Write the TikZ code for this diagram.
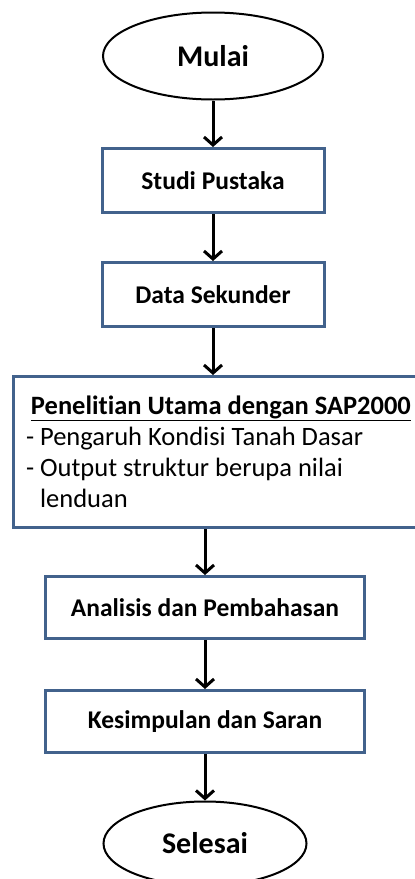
\documentclass[tikz,border=0pt]{standalone}
\usepackage{fontspec}
\setmainfont[Ligatures=NoCommon]{Carlito}
\usepackage{tikz}
\usetikzlibrary{shapes, arrows.meta, calc, positioning}

\definecolor{boxblue}{RGB}{66,98,140}

\begin{document}
\begin{tikzpicture}[x=1pt, y=-1pt, >={Straight Barb[length=8pt,width=18pt]}]
    \tikzstyle{terminal} = [draw, line width=2pt, ellipse, inner sep=0pt,
	font=\fontsize{30}{34}\selectfont\bfseries]
    \tikzstyle{process} = [draw=boxblue, line width=3pt, rectangle, inner sep=0pt,
	font=\fontsize{25.5}{30}\selectfont\bfseries]
    \tikzstyle{mainstep} = [draw=boxblue, line width=3pt, rectangle, inner xsep=13pt,
	minimum width=407pt, minimum height=151pt, text width=381pt, align=flush left,
	font=\fontsize{26.5}{31}\selectfont]

	\useasboundingbox (0,0) rectangle (415,879);

		\path[->, line width=3pt]
			node[terminal, minimum width=220pt, minimum height=87pt] (mulai) at (213,56) {Mulai}
			node[process, minimum width=222pt, minimum height=64pt, below=46.5pt of mulai] (studi) {Studi Pustaka}
			node[process, minimum width=222pt, minimum height=64pt, below=47pt of studi] (data) {Data Sekunder}
			node[mainstep, below=47pt of data, xshift=3.5pt] (utama)
				{\hspace*{5pt}\textbf{\underline{Penelitian Utama dengan SAP2000}}\\
				 - Pengaruh Kondisi Tanah Dasar\\
				 - Output struktur berupa nilai\\
				 \phantom{- }lenduan\par\vspace*{20pt}}
			node[process, minimum width=319pt, minimum height=62pt, below=46pt of utama, xshift=-11.5pt] (analisis) {Analisis dan Pembahasan}
			node[process, minimum width=319pt, minimum height=62pt, below=49pt of analisis] (simpulan) {Kesimpulan dan Saran}
			node[terminal, minimum width=203pt, minimum height=84pt, below=46.5pt of simpulan] (selesai) {Selesai}

			(mulai) edge (studi)
			(studi) edge (data)
			(data.south) edge (data.south |- utama.north)
			(utama.south -| analisis.north) edge (analisis.north)
			(analisis) edge (simpulan)
			(simpulan) edge (selesai)
		;

\end{tikzpicture}
\end{document}
